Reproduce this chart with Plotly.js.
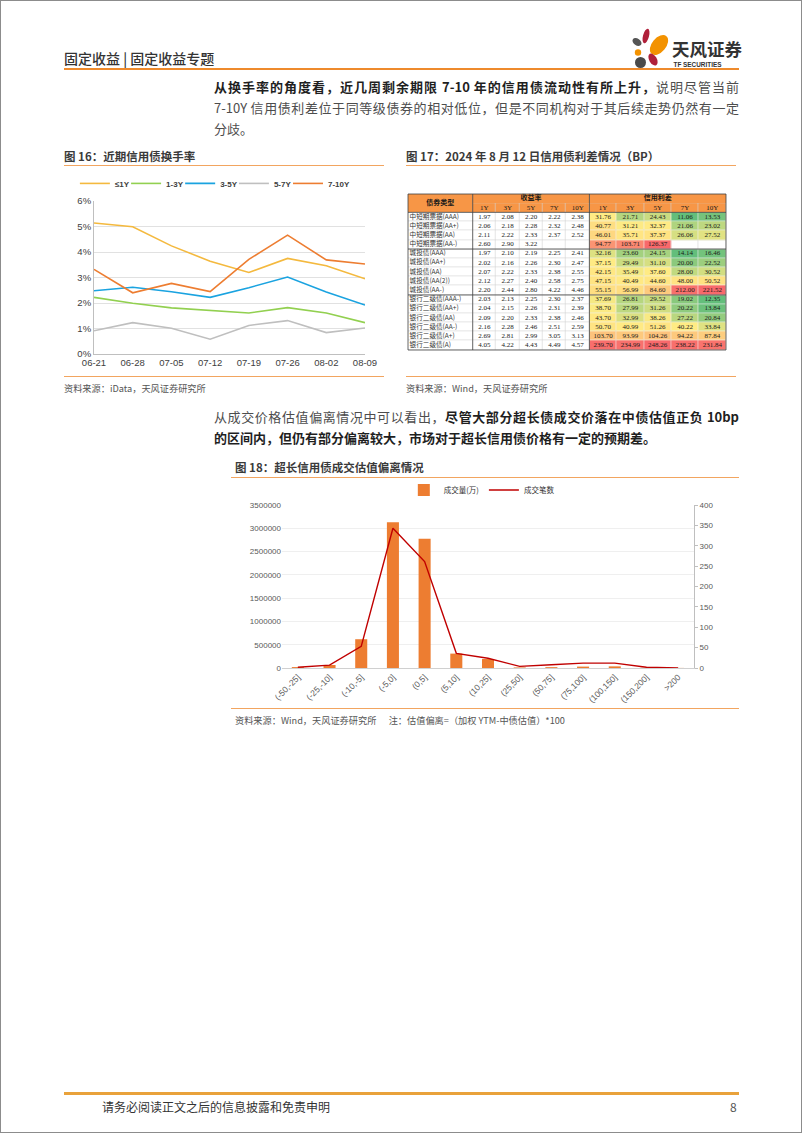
<!DOCTYPE html>
<html><head><meta charset="utf-8">
<script src="https://cdn.plot.ly/plotly-3.0.1.min.js"></script>
<style>
html,body{margin:0;padding:0;background:#fff;}
#page{position:relative;width:802px;height:1133px;box-sizing:border-box;border:1px solid #8c8c8c;overflow:hidden;font-family:"Noto Sans CJK SC","Noto Sans",sans-serif;color:#333;}
.abs{position:absolute;}
.hl{position:absolute;height:0;}
.para{position:absolute;left:213px;width:525px;font-size:13px;line-height:21px;color:#4d4d4d;}
.para b{color:#1f1f1f;font-weight:700;}
.para .j{text-align:justify;text-align-last:justify;}
.figt{position:absolute;font-size:11.5px;line-height:16px;font-weight:700;color:#3a3a3a;white-space:nowrap;}
.src{position:absolute;font-size:9.2px;line-height:12px;color:#555;white-space:nowrap;}
</style></head>
<body>
<div id="page">
  <div class="abs" style="left:63px;top:48px;font-size:14px;line-height:18px;color:#333;font-weight:500;">固定收益 | 固定收益专题</div>
  <svg class="abs" style="left:626px;top:24px" width="120" height="46" viewBox="626 24 120 46">
    <ellipse cx="645" cy="35" rx="3" ry="7.5" fill="#B0203A" transform="rotate(15 645 35)"/>
    <ellipse cx="636" cy="41" rx="5" ry="3.3" fill="#555" transform="rotate(35 636 41)"/>
    <ellipse cx="658" cy="44" rx="7" ry="11.5" fill="#F39200" transform="rotate(40 658 44)"/>
    <circle cx="637" cy="51.5" r="3.2" fill="#F39200"/>
    <ellipse cx="652" cy="58.5" rx="3.8" ry="6.5" fill="#B0203A" transform="rotate(-30 652 58.5)"/>
    <ellipse cx="639.5" cy="61.5" rx="5.5" ry="5.5" fill="#4a4a4a"/>
    <text x="671" y="55" font-size="17.5" font-weight="700" fill="#333" font-family="Noto Sans CJK SC">天风证券</text>
    <text x="672.5" y="65.5" font-size="6.4" font-weight="700" fill="#333" font-family="Liberation Sans">TF SECURITIES</text>
  </svg>
  <div class="hl" style="left:63px;top:67px;width:675px;border-top:2px solid #EE8A2C;"></div>

  <div class="para" style="top:74.5px;">
    <div class="j"><b>从换手率的角度看，近几周剩余期限 7-10 年的信用债流动性有所上升，</b>说明尽管当前</div>
    <div class="j">7-10Y 信用债利差位于同等级债券的相对低位，但是不同机构对于其后续走势仍然有一定</div>
    <div>分歧。</div>
  </div>

  <div class="figt" style="left:63px;top:147px;">图 16：近期信用债换手率</div>
  <div class="hl" style="left:63px;top:164px;width:320px;border-top:1.5px solid #F2A560;"></div>
  <div class="figt" style="left:405px;top:147px;">图 17：2024 年 8 月 12 日信用债利差情况（BP）</div>
  <div class="hl" style="left:405px;top:164px;width:330px;border-top:1.5px solid #F2A560;"></div>

  <div id="c16" class="abs" style="left:63px;top:168px;width:320px;height:205px;"></div>
  <div id="c17" class="abs" style="left:406px;top:192px;width:320px;height:158px;"></div>

  <div class="hl" style="left:63px;top:375px;width:320px;border-top:1.5px solid #F2A560;"></div>
  <div class="hl" style="left:405px;top:375px;width:330px;border-top:1.5px solid #F2A560;"></div>
  <div class="src" style="left:63px;top:381px;">资料来源：iData，天风证券研究所</div>
  <div class="src" style="left:405px;top:381px;">资料来源：Wind，天风证券研究所</div>

  <div class="para" style="top:404.5px;">
    <div class="j">从成交价格估值偏离情况中可以看出，<b>尽管大部分超长债成交价落在中债估值正负 10bp</b></div>
    <div><b>的区间内，但仍有部分偏离较大，市场对于超长信用债价格有一定的预期差。</b></div>
  </div>

  <div class="figt" style="left:234px;top:458px;">图 18：超长信用债成交估值偏离情况</div>
  <div class="hl" style="left:230px;top:476px;width:508px;border-top:1.5px solid #F2A560;"></div>
  <div id="c18" class="abs" style="left:230px;top:480px;width:508px;height:225px;"></div>
  <div class="hl" style="left:230px;top:707px;width:508px;border-top:1.5px solid #F2A560;"></div>
  <div class="src" style="left:234px;top:713px;">资料来源：Wind，天风证券研究所&nbsp;&nbsp;&nbsp;&nbsp;&nbsp;&nbsp;注：估值偏离=（加权 YTM-中债估值）*100</div>

  <div class="hl" style="left:63px;top:1091px;width:675px;border-top:3px solid #E9A23B;"></div>
  <div class="abs" style="left:101px;top:1098px;font-size:12px;line-height:16px;color:#333;">请务必阅读正文之后的信息披露和免责申明</div>
  <div class="abs" style="left:729px;top:1098px;font-size:12px;line-height:16px;color:#555;">8</div>
</div>

<script>
// ---------- Figure 16 data: turnover rate (%) ----------
const dates = ['06-21','06-28','07-05','07-12','07-19','07-26','08-02','08-09'];
const seriesNames = ['≤1Y','1-3Y','3-5Y','5-7Y','7-10Y'];
const turnLe1Y  = [5.14,4.99,4.24,3.64,3.20,3.75,3.46,2.95];
const turn1to3  = [2.22,1.99,1.81,1.71,1.61,1.82,1.61,1.23];
const turn3to5  = [2.48,2.62,2.44,2.22,2.60,3.02,2.43,1.92];
const turn5to7  = [0.91,1.23,1.01,0.58,1.12,1.31,0.84,1.02];
const turn7to10 = [3.32,2.40,2.77,2.45,3.71,4.66,3.69,3.53];

// ---------- Figure 17 data: yields & credit spreads ----------
const bondTypes = ['中短期票据(AAA)','中短期票据(AA+)','中短期票据(AA)','中短期票据(AA-)',
  '城投债(AAA)','城投债(AA+)','城投债(AA)','城投债(AA(2))','城投债(AA-)',
  '银行二级债(AAA-)','银行二级债(AA+)','银行二级债(AA)','银行二级债(AA-)','银行二级债(A+)','银行二级债(A)'];
const tenors = ['1Y','3Y','5Y','7Y','10Y'];
const yld1Y  = [1.97,2.06,2.11,2.60,1.97,2.02,2.07,2.12,2.20,2.03,2.04,2.09,2.16,2.69,4.05];
const yld3Y  = [2.08,2.18,2.22,2.90,2.10,2.16,2.22,2.27,2.44,2.13,2.15,2.20,2.28,2.81,4.22];
const yld5Y  = [2.20,2.28,2.33,3.22,2.19,2.26,2.33,2.40,2.80,2.25,2.26,2.33,2.46,2.99,4.43];
const yld7Y  = [2.22,2.32,2.37,null,2.25,2.30,2.38,2.58,4.22,2.30,2.31,2.38,2.51,3.05,4.49];
const yld10Y = [2.38,2.48,2.52,null,2.41,2.47,2.55,2.75,4.46,2.37,2.39,2.46,2.59,3.13,4.57];
const spr1Y  = [31.76,40.77,46.01,94.77,32.16,37.15,42.15,47.15,55.15,37.69,38.70,43.70,50.70,103.70,239.70];
const spr3Y  = [21.71,31.21,35.71,103.71,23.60,29.49,35.49,40.49,56.99,26.81,27.99,32.99,40.99,93.99,234.99];
const spr5Y  = [24.43,32.37,37.37,126.37,24.15,31.10,37.60,44.60,84.60,29.52,31.26,38.26,51.26,104.26,248.26];
const spr7Y  = [11.06,21.06,26.06,null,14.14,20.00,28.00,48.00,212.00,19.02,20.22,27.22,40.22,94.22,238.22];
const spr10Y = [13.53,23.02,27.52,null,16.46,22.52,30.52,50.52,221.52,12.35,13.84,20.84,33.84,87.84,231.84];
const headType = '债券类型';
const headYield = '收益率';
const headSpread = '信用利差';

// ---------- Figure 18 data ----------
const devBins = ['(-50,-25]','(-25,-10]','(-10,-5]','(-5,0]','(0,5]','(5,10]','(10,25]','(25,50]','(50,75]','(75,100]','(100,150]','(150,200]','>200'];
const tradeVolume = [20000,65000,618000,3132000,2773000,309000,194000,12000,18000,30000,35000,6000,2000];
const tradeCount  = [2,7,53,343,261,36,24,4,8,12,12,2,0];
const volName = '成交量(万)';
const cntName = '成交笔数';

const cfg = {staticPlot:true, displayModeBar:false};
const FONT = 'Liberation Sans, Arial, Noto Sans CJK SC, sans-serif';
function safe(fn){ try { fn(); } catch(e) { console.error(e); } }

// ----- Chart 16 -----
safe(()=>{
  const lineColors = ['#F4B93E','#92D050','#1AA3E0','#BFBFBF','#ED7D31'];
  const legendLeft = [0.034, 0.194, 0.363, 0.531, 0.700];   // one small legend per series
  const turnSeries = [turnLe1Y, turn1to3, turn3to5, turn5to7, turn7to10];
  const legIds = turnSeries.map((_,i)=> i===0 ? 'legend' : 'legend'+(i+1));
  const traces = turnSeries.map((s,i)=>({
    type:'scatter', mode:'lines', x:dates, y:s, name:seriesNames[i], legend:legIds[i],
    line:{color:lineColors[i], width:1.6}
  }));
  const layout = {
    width:320, height:205, margin:{l:30,r:19,t:32,b:20,autoexpand:false},
    paper_bgcolor:'rgba(0,0,0,0)', plot_bgcolor:'rgba(0,0,0,0)',
    font:{family:FONT, size:9.5, color:'#404040'},
    showlegend:true,
    xaxis:{type:'category', range:[0,7], showgrid:false, showline:true, linecolor:'#bfbfbf', linewidth:1, ticks:'', tickfont:{size:9.5}},
    yaxis:{range:[0,6], dtick:1, ticksuffix:'%', showgrid:true, gridcolor:'#d9d9d9', gridwidth:0.8,
      showline:true, linecolor:'#bfbfbf', zeroline:false, ticks:'', tickfont:{size:9.5}}
  };
  legIds.forEach((id,i)=>{
    layout[id] = {orientation:'h', xref:'container', x:legendLeft[i], xanchor:'left', y:1.115, yanchor:'middle',
      font:{size:8, weight:'bold', color:'#404040'}, itemwidth:30, bgcolor:'rgba(0,0,0,0)'};
  });
  Plotly.newPlot('c16', traces, layout, cfg);
});

// ----- Chart 17 (table drawn as heatmap grid + text) -----
safe(()=>{
  const LOW='#63BE7B', MID='#FFEB84', HIGH='#F8696B', HEAD='#F79646';
  const sprCols = [spr1Y,spr3Y,spr5Y,spr7Y,spr10Y];
  const yldCols = [yld1Y,yld3Y,yld5Y,yld7Y,yld10Y];
  const groupOf = bondTypes.map(n=>n.split('(')[0]);
  const groups = [...new Set(groupOf)];
  const stats = {};
  groups.forEach(g=>{
    const vals=[];
    sprCols.forEach(c=>c.forEach((v,r)=>{ if(groupOf[r]===g && v!=null) vals.push(v); }));
    vals.sort((a,b)=>a-b);
    const m=vals.length; const med = m%2? vals[(m-1)/2] : (vals[m/2-1]+vals[m/2])/2;
    stats[g]={min:vals[0], mid:med, max:vals[m-1]};
  });
  const colorPos = (v,r)=>{
    if(v==null) return null;
    const s=stats[groupOf[r]];
    return v<=s.mid ? 0.5*(v-s.min)/(s.mid-s.min) : 0.5+0.5*(v-s.mid)/(s.max-s.mid);
  };
  const f2 = v=>v==null?'':v.toFixed(2);
  const rowIdx = bondTypes.map((_,i)=>i);          // data rows 0..14
  const H1 = -2, H2 = -1;                           // two header rows above
  const toRows = cols => bondTypes.map((_,r)=>cols.map(c=>c[r]));
  const yldRows = toRows(yldCols), sprRows = toRows(sprCols);
  const flat = c => [[0,c],[1,c]];
  const hm = o=>Object.assign({type:'heatmap', showscale:false, hoverinfo:'skip', zmin:0, zmax:1}, o);
  const TF = {family:'Liberation Serif, Noto Sans CJK SC', size:7, color:'#1a1a1a'};
  const HF = {family:'Noto Sans CJK SC', size:7, color:'#1a1a1a', weight:'bold'};
  const txt = o=>Object.assign({type:'scatter', mode:'text', hoverinfo:'skip', cliponaxis:false, textfont:TF}, o);
  const cellText = (rows, axis)=>{
    const x=[], y=[], t=[];
    rows.forEach((r,ri)=>r.forEach((v,ci)=>{ if(v!=null){ x.push(tenors[ci]); y.push(rowIdx[ri]); t.push(f2(v)); } }));
    return txt({x, y, text:t, xaxis:axis, yaxis:'y'});
  };
  const X1=[0,0.2035], X2=[0.2035,0.5705], X3=[0.5705,1];
  const NAME_PAD = 0.025;
  const t17 = [
    // bond type column
    hm({x:[0.5], y:[H1,H2], z:[[1],[1]], colorscale:flat(HEAD), xaxis:'x', yaxis:'y'}),
    hm({x:[0.5], y:rowIdx, z:bondTypes.map(()=>[0]), colorscale:flat('#ffffff'), ygap:0.6, xaxis:'x', yaxis:'y'}),
    txt({x:[0.5], y:[(H1+H2)/2], text:[headType], textfont:HF, xaxis:'x', yaxis:'y'}),
    txt({x:bondTypes.map(()=>NAME_PAD), y:rowIdx, text:bondTypes, textposition:'middle right',
         textfont:{family:'Noto Sans CJK SC', size:6.6, color:'#333'}, xaxis:'x', yaxis:'y'}),
    // yields block
    hm({x:tenors, y:[H1], z:[tenors.map(()=>1)], colorscale:flat(HEAD), xaxis:'x2', yaxis:'y'}),
    hm({x:tenors, y:[H2], z:[tenors.map(()=>1)], colorscale:flat(HEAD), xgap:0.6, xaxis:'x2', yaxis:'y'}),
    hm({x:tenors, y:rowIdx, z:yldRows.map(r=>r.map(()=>0)), colorscale:flat('#ffffff'), xgap:0.6, ygap:0.6, xaxis:'x2', yaxis:'y'}),
    txt({x:[tenors[2]], y:[H1], text:[headYield], textfont:HF, xaxis:'x2', yaxis:'y'}),
    txt({x:tenors, y:tenors.map(()=>H2), text:tenors, xaxis:'x2', yaxis:'y'}),
    cellText(yldRows, 'x2'),
    // spreads block
    hm({x:tenors, y:[H1], z:[tenors.map(()=>1)], colorscale:flat(HEAD), xaxis:'x3', yaxis:'y'}),
    hm({x:tenors, y:[H2], z:[tenors.map(()=>1)], colorscale:flat(HEAD), xgap:0.6, xaxis:'x3', yaxis:'y'}),
    hm({x:tenors, y:rowIdx, z:sprRows.map(r=>r.map(()=>0)), colorscale:flat('#ffffff'), xgap:0.6, ygap:0.6, xaxis:'x3', yaxis:'y'}),
    hm({x:tenors, y:rowIdx, z:sprRows.map((r,ri)=>r.map(v=>colorPos(v,ri))), colorscale:[[0,LOW],[0.5,MID],[1,HIGH]], xgap:0.6, ygap:0.6, xaxis:'x3', yaxis:'y'}),
    txt({x:[tenors[2]], y:[H1], text:[headSpread], textfont:HF, xaxis:'x3', yaxis:'y'}),
    txt({x:tenors, y:tenors.map(()=>H2), text:tenors, xaxis:'x3', yaxis:'y'}),
    cellText(sprRows, 'x3')
  ];
  const frame = {color:'#404040', width:0.8};
  const shapes = [];
  bondTypes.forEach((n,i)=>{ if(i>0 && groupOf[i]!==groupOf[i-1]) {
    shapes.push({type:'line', xref:'paper', x0:0, x1:1, yref:'y', y0:rowIdx[i]-0.5, y1:rowIdx[i]-0.5, line:frame});
  }});
  shapes.push({type:'line', xref:'paper', x0:0, x1:1, yref:'y', y0:rowIdx[0]-0.5, y1:rowIdx[0]-0.5, line:frame});
  shapes.push({type:'line', xref:'paper', x0:X2[0], x1:X2[0], yref:'paper', y0:0, y1:1, line:frame});
  shapes.push({type:'line', xref:'paper', x0:X3[0], x1:X3[0], yref:'paper', y0:0, y1:1, line:frame});
  shapes.push({type:'rect', xref:'paper', x0:0, x1:1, yref:'paper', y0:0, y1:1, line:frame});
  const axOff = {showgrid:false, zeroline:false, showticklabels:false, ticks:'', showline:false, fixedrange:true};
  Plotly.newPlot('c17', t17, {
    width:320, height:158, margin:{l:0.5,r:0.5,t:0.5,b:0.5,autoexpand:false},
    paper_bgcolor:'#ffffff', plot_bgcolor:'#d2d2d2', showlegend:false,
    xaxis:Object.assign({domain:X1, type:'linear', range:[0,1], anchor:'y'}, axOff),
    xaxis2:Object.assign({domain:X2, type:'category', categoryorder:'array', categoryarray:tenors, anchor:'y'}, axOff),
    xaxis3:Object.assign({domain:X3, type:'category', categoryorder:'array', categoryarray:tenors, anchor:'y'}, axOff),
    yaxis:Object.assign({type:'linear', range:[rowIdx[rowIdx.length-1]+0.5, H1-0.5], anchor:'x'}, axOff),
    shapes:shapes
  }, cfg);
});

// ----- Chart 18 -----
safe(()=>{
  Plotly.newPlot('c18', [
    {type:'bar', x:devBins, y:tradeVolume, name:volName, marker:{color:'#ED7D31'}},
    {type:'scatter', mode:'lines', x:devBins, y:tradeCount, name:cntName, yaxis:'y2', line:{color:'#C00000', width:1.4}}
  ], {
    width:508, height:225, margin:{l:51,r:45,t:24,b:38,autoexpand:false},
    paper_bgcolor:'rgba(0,0,0,0)', plot_bgcolor:'rgba(0,0,0,0)',
    font:{family:FONT, size:8, color:'#595959'},
    bargap:0.62, showlegend:true,
    legend:{orientation:'h', x:0.485, xanchor:'center', y:1.092, yanchor:'middle',
      font:{size:7.5, color:'#333', family:'Noto Sans CJK SC'}, itemwidth:30, bgcolor:'rgba(0,0,0,0)'},
    xaxis:{type:'category', tickangle:-45, tickfont:{size:8.5}, showline:true, linecolor:'#d0d0d0', ticks:'', showgrid:false},
    yaxis:{range:[0,3500000], dtick:500000, tickformat:'d', showgrid:true, gridcolor:'#efefef', showline:false, zeroline:false, ticks:'', tickfont:{size:8}},
    yaxis2:{overlaying:'y', side:'right', range:[0,400], dtick:50, showgrid:false, showline:true, linecolor:'#bfbfbf',
      ticks:'outside', ticklen:3, tickcolor:'#bfbfbf', zeroline:false, tickfont:{size:8}}
  }, cfg);
});
</script>
</body></html>
